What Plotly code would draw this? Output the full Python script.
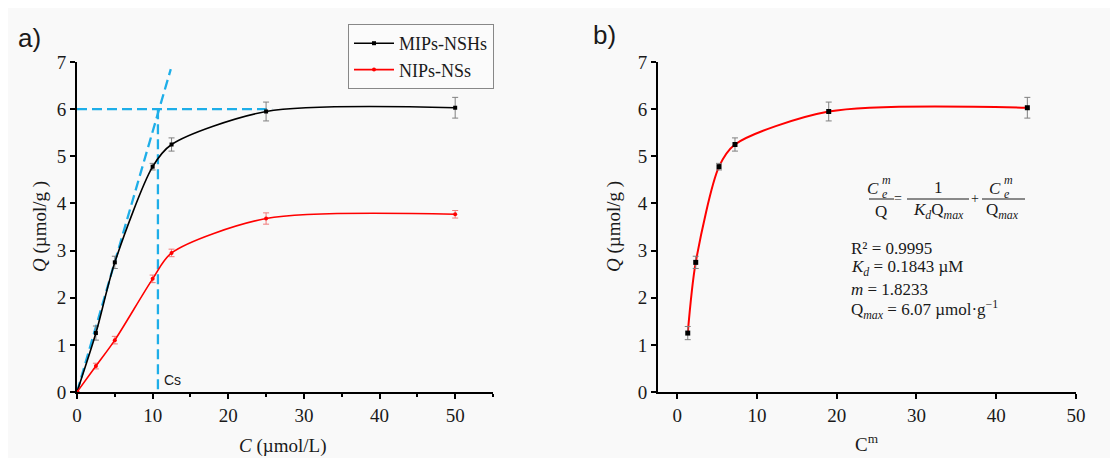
import plotly.graph_objects as go

# ---------------- data ----------------
conc = [0, 2.5, 5, 10, 12.5, 25, 50]
mips_q = [0, 1.25, 2.75, 4.78, 5.25, 5.95, 6.03]
mips_err = [0, 0.15, 0.13, 0.07, 0.14, 0.2, 0.22]
nips_q = [0, 0.55, 1.1, 2.4, 2.95, 3.68, 3.77]
nips_err = [0, 0.06, 0.08, 0.08, 0.08, 0.12, 0.08]

tangent_x = [0, 12.4]
tangent_y = [0, 6.85]
sat_h_x = [0, 25.8]
sat_h_y = [6, 6]
cs_x = [10.7, 10.7]
cs_y = [6, 0]

cm_x = [1.33, 2.33, 5.25, 7.25, 19.0, 43.9]
cm_q = [1.25, 2.75, 4.78, 5.25, 5.95, 6.03]
cm_err = [0.14, 0.13, 0.07, 0.14, 0.2, 0.22]

x_ticks_a = [0, 10, 20, 30, 40, 50]
x_ticks_b = [0, 10, 20, 30, 40, 50]
y_ticks = [0, 1, 2, 3, 4, 5, 6, 7]

# ---------------- layout helpers ----------------
# figure starts after the 8px page margin and runs to the window edge
OFF = 8
FW, FH = 1118 - OFF, 458 - OFF
def px(x):
    return (x - OFF) / FW
def py(y):
    return (FH - (y - OFF)) / FH

SERIF = "Liberation Serif"
SANS = "Liberation Sans"
BLUE = "#1eaee8"
TXT = "#1a1a1a"

fig = go.Figure()

dash = dict(color=BLUE, width=2.3, dash="10px,5px")
fig.add_trace(go.Scatter(x=tangent_x, y=tangent_y, mode="lines", showlegend=False,
                         line=dash, xaxis="x", yaxis="y", cliponaxis=False))
fig.add_trace(go.Scatter(x=sat_h_x, y=sat_h_y, mode="lines", showlegend=False,
                         line=dash, xaxis="x", yaxis="y"))
fig.add_trace(go.Scatter(x=cs_x, y=cs_y, mode="lines", showlegend=False,
                         line=dash, xaxis="x", yaxis="y"))

fig.add_trace(go.Scatter(
    x=conc, y=mips_q, name="MIPs-NSHs", mode="lines+markers",
    line=dict(color="black", width=1.6, shape="spline", smoothing=0.8),
    marker=dict(symbol="square", size=4, color="black"),
    error_y=dict(type="data", array=mips_err, color="#808080", thickness=1, width=3),
    xaxis="x", yaxis="y", cliponaxis=False))
fig.add_trace(go.Scatter(
    x=conc, y=nips_q, name="NIPs-NSs", mode="lines+markers",
    line=dict(color="#ff0000", width=1.6, shape="spline", smoothing=0.8),
    marker=dict(symbol="circle", size=4, color="#ff0000"),
    error_y=dict(type="data", array=nips_err, color="#f07a7a", thickness=1, width=3),
    xaxis="x", yaxis="y", cliponaxis=False))

fig.add_trace(go.Scatter(
    x=cm_x, y=cm_q, mode="lines", showlegend=False,
    line=dict(color="#ff0000", width=2, shape="spline", smoothing=0.8),
    xaxis="x2", yaxis="y2"))
fig.add_trace(go.Scatter(
    x=cm_x, y=cm_q, mode="markers", showlegend=False,
    marker=dict(symbol="square", size=5, color="black"),
    error_y=dict(type="data", array=cm_err, color="#808080", thickness=1, width=3),
    xaxis="x2", yaxis="y2"))

axis_common = dict(
    showline=True, linecolor="black", linewidth=2, showgrid=False, zeroline=False,
    ticks="outside", ticklen=5, tickwidth=1.5, tickcolor="black", automargin=False,
    tickfont=dict(family=SERIF, size=19, color=TXT), mirror=False,
)

fig.update_layout(
    template="none",
    width=FW, height=FH,
    margin=dict(l=0, r=0, t=0, b=0, pad=0, autoexpand=False),
    paper_bgcolor="#f9f9f9", plot_bgcolor="rgba(0,0,0,0)",
    xaxis=dict(domain=[px(77), px(493)], range=[0, 55], tickvals=x_ticks_a,
               anchor="y", minor=dict(dtick=5, ticks="outside", ticklen=3, tickcolor="black"),
               **axis_common),
    yaxis=dict(domain=[py(392), py(62)], range=[0, 7], tickvals=y_ticks, anchor="x",
               **axis_common),
    xaxis2=dict(domain=[px(658), px(1076)], range=[-2.4, 50], tickvals=x_ticks_b,
                anchor="y2", **axis_common),
    yaxis2=dict(domain=[py(392), py(62)], range=[0, 7], tickvals=y_ticks, anchor="x2",
                **axis_common),
    legend=dict(x=px(348), y=py(24), xanchor="left", yanchor="top",
                bgcolor="#fbfbfb", bordercolor="#888888", borderwidth=1,
                font=dict(family=SERIF, size=18, color=TXT),
                tracegroupgap=0, itemwidth=40),
    showlegend=True,
)

ann = []
def text(x, y, s, size=16, family=SERIF, angle=0, xanchor="center", color=TXT):
    ann.append(dict(x=px(x), y=py(y), xref="paper", yref="paper", text=s, showarrow=False,
                    font=dict(family=family, size=size, color=color), textangle=angle,
                    xanchor=xanchor, yanchor="middle", borderpad=0))

text(29, 38, "a)", size=26, family=SANS)
text(604, 35, "b)", size=26, family=SANS)
text(282, 446, "<i>C</i> (µmol/L)", size=19)
text(40, 227, "<i>Q</i> (µmol/g )", size=19, angle=-90)
text(867, 443, "C<sup>m</sup>", size=19)
text(614, 227, "<i>Q</i> (µmol/g )", size=19, angle=-90)
text(172, 380, "Cs", size=14, family=SANS)

# equation
def cterm(right, cy):
    text(right, cy + 2, "<i>C</i>", size=17, xanchor="right")
    text(right + 1, cy - 6, "<i>m</i>", size=12, xanchor="left")
    text(right + 1, cy + 8, "<i>e</i>", size=12, xanchor="left")

cterm(880, 186)
text(881, 211, "Q", size=17)
text(898, 199, "=", size=14)
text(938, 187, "1", size=17)
text(938, 211, "<i>K<sub>d</sub></i>Q<sub><i>max</i></sub>", size=17)
text(975, 199, "+", size=14)
cterm(1002, 186)
text(1003, 211, "Q<sub><i>max</i></sub>", size=17)

for x0, x1 in [(869, 894), (907, 969), (982, 1025)]:
    fig.add_shape(type="line", xref="paper", yref="paper", x0=px(x0), x1=px(x1),
                  y0=py(199), y1=py(199), line=dict(color=TXT, width=1))

text(850, 248, "R² = 0.9995", size=17, xanchor="left")
text(850, 268, "<i>K<sub>d</sub></i> = 0.1843 µM", size=17, xanchor="left")
text(850, 289, "<i>m</i> = 1.8233", size=17, xanchor="left")
text(850, 309, "Q<sub><i>max</i></sub> = 6.07 µmol·g<sup>−1</sup>", size=17, xanchor="left")

fig.update_layout(annotations=ann)

fig.write_html("out.html")
